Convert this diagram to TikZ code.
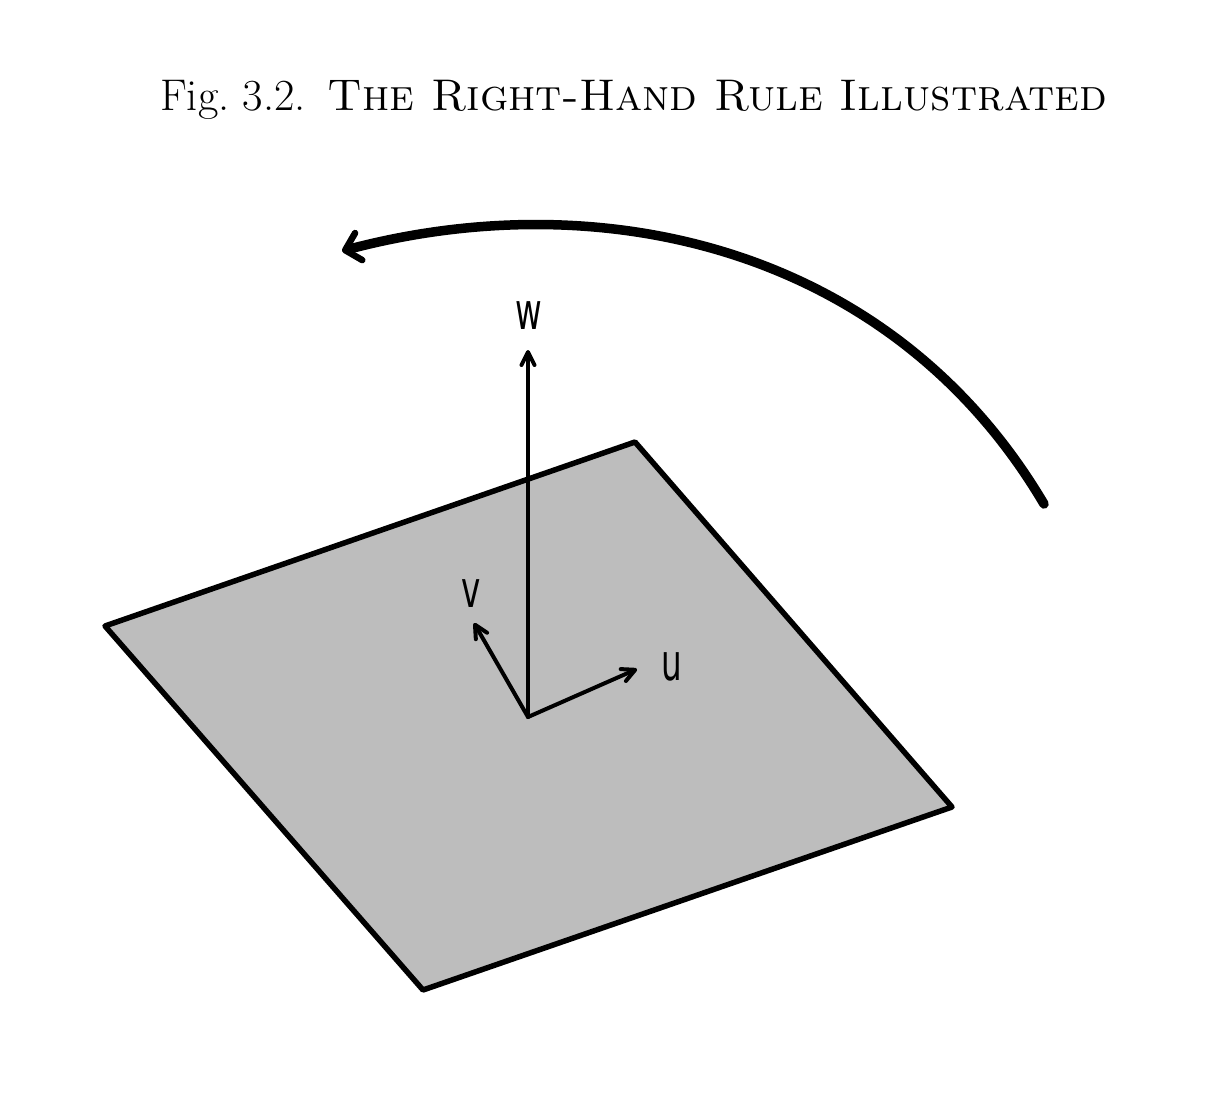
\documentclass[tikz,border=0pt]{standalone}
\usepackage{fontspec}
\setsansfont{DejaVu Sans}
\usetikzlibrary{arrows.meta}
\tikzset{
  px/.style={x=1pt,y=-1pt},
  edgeline/.style={line width=5.5pt,line join=round,line cap=round},
  vec/.style={line width=4pt,-{Straight Barb[round,length=13pt,width=13pt,line width=4pt]},line cap=round},
  bigarc/.style={line width=9.5pt,line cap=round,-{Straight Barb[round,length=14pt,width=28pt,line width=6.5pt]}},
  lab/.style={inner sep=0pt,font=\sffamily\fontsize{51}{51}\selectfont,xscale=.64,transform shape},
  titlelab/.style={inner sep=0pt,anchor=base west,font=\fontsize{44.4}{48}\selectfont}
}
\begin{document}
\begin{tikzpicture}[px]
\useasboundingbox (0,0) rectangle (1221,1097);
\coordinate (A) at (105,626);
\coordinate (B) at (635,442);
\coordinate (C) at (952,807);
\coordinate (D) at (423,990);
\coordinate (O) at (528,717);
\coordinate (Ue) at (637,669);
\coordinate (Ve) at (474,623);
\coordinate (We) at (528,350);
\coordinate (S) at (1044,504);
\coordinate (E) at (342,251);
\filldraw[fill=black!26,edgeline] (A)--(B)--(C)--(D)--cycle;
\draw[vec] (O)--(Ue);
\draw[vec] (O)--(Ve);
\draw[vec] (O)--(We);
\node[lab] (u) at (672,667) {u};
\node[lab] (v) at (471,594) {v};
\node[lab] (w) at (529,316) {w};
\draw[bigarc] (S) .. controls (894,250) and (606,181) .. (E);
\node[titlelab] (t) at (160,111) {Fig.\ 3.2.\hspace{4pt} \textsc{The Right-Hand Rule Illustrated}};
\end{tikzpicture}
\end{document}
